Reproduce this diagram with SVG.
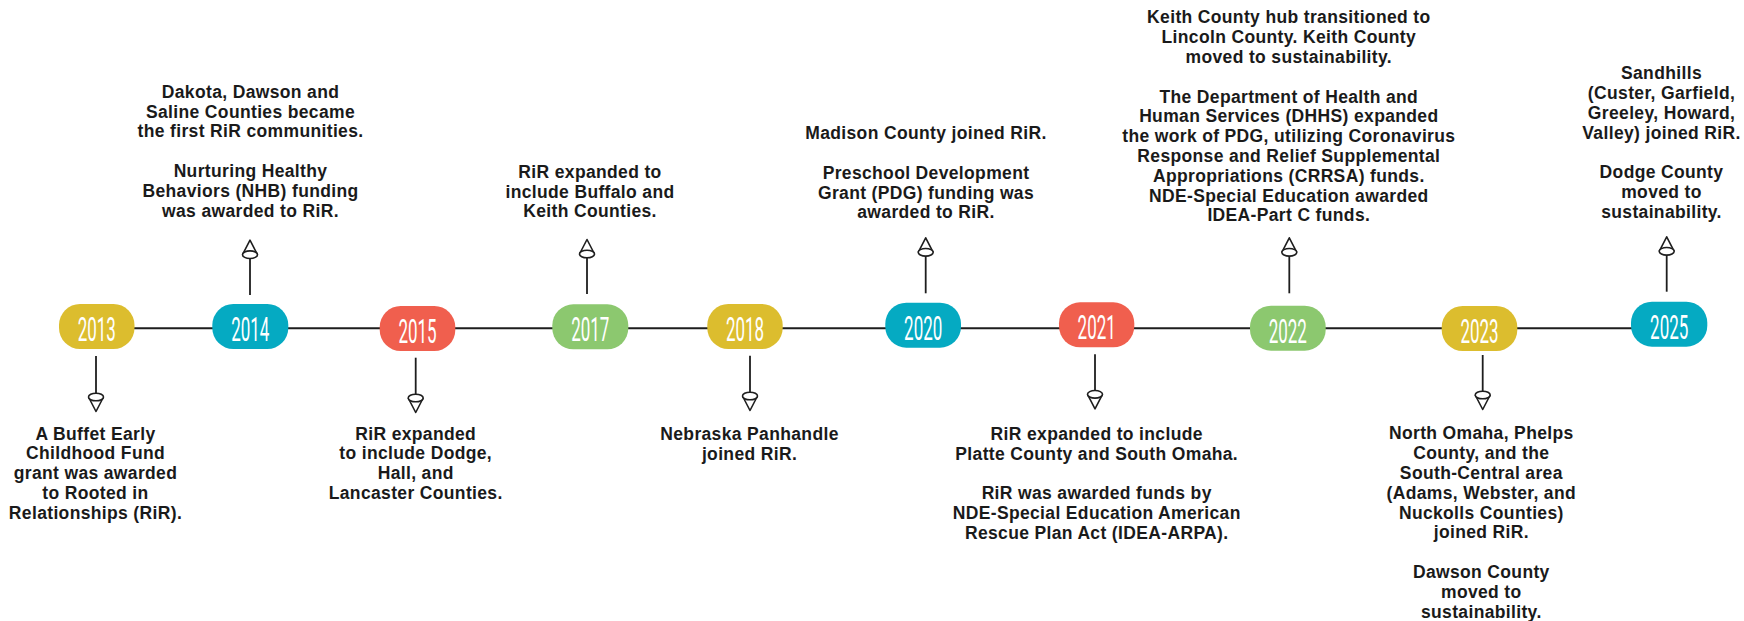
<svg xmlns="http://www.w3.org/2000/svg" width="1744" height="621" viewBox="0 0 1744 621">
<style>
.bg{fill:#ffffff}
.tl{stroke:#1e1e1e;stroke-width:2;fill:none}
.ar{stroke:#1e1e1e;stroke-width:1.8;fill:none;marker-end:url(#cone)}
.pill{stroke:none}
.y{fill:#dcbd2e}.b{fill:#05aac2}.r{fill:#f05f4e}.g{fill:#8cc86f}
.yr{font-family:Roboto,"Liberation Sans",sans-serif;font-weight:400;font-size:34px;fill:#ffffff;text-anchor:middle}
.tx{font-family:"Liberation Sans",Arial,sans-serif;font-weight:700;font-size:17.5px;letter-spacing:0.35px;fill:#1a1a1a;text-anchor:middle}
</style>
<defs>
<marker id="cone" markerUnits="userSpaceOnUse" orient="auto" refX="0" refY="0" markerWidth="20" markerHeight="20" overflow="visible">
<path d="M0,-7.5 L14.5,0 L0,7.5" fill="#ffffff" stroke="#1e1e1e" stroke-width="1.6" stroke-linejoin="round"/>
<ellipse cx="0" cy="0" rx="3.8" ry="7.5" fill="#ffffff" stroke="#1e1e1e" stroke-width="1.6"/>
</marker>
</defs>
<rect class="bg" x="0" y="0" width="1744" height="621"/>
<g id="connectors">
<path class="tl" d="M96,328.3 H1669"/>
<path class="ar" d="M96,356 L96,397"/>
<path class="ar" d="M250,295 L250,254.7"/>
<path class="ar" d="M415.7,357.7 L415.7,398"/>
<path class="ar" d="M587,294 L587,254"/>
<path class="ar" d="M750,355.7 L750,396"/>
<path class="ar" d="M925.7,293.3 L925.7,252.3"/>
<path class="ar" d="M1095,354.3 L1095,394.3"/>
<path class="ar" d="M1289.3,293.3 L1289.3,252.3"/>
<path class="ar" d="M1482.7,355 L1482.7,395"/>
<path class="ar" d="M1666.7,291.7 L1666.7,251.3"/>
</g>
<g id="node-2013">
<rect class="pill y" x="59" y="304" width="75.5" height="45" rx="21"/>
<text class="yr" transform="translate(96.8,341) scale(0.5,1)">2013</text>
<text class="tx"><tspan x="95.5" y="439.5">A Buffet Early</tspan><tspan x="95.5" y="459.3">Childhood Fund</tspan><tspan x="95.5" y="479.1">grant was awarded</tspan><tspan x="95.5" y="498.9">to Rooted in</tspan><tspan x="95.5" y="518.7">Relationships (RiR).</tspan></text>
</g>
<g id="node-2014">
<rect class="pill b" x="212.3" y="304" width="76" height="45" rx="21"/>
<text class="yr" transform="translate(250.3,341.3) scale(0.5,1)">2014</text>
<text class="tx"><tspan x="250.5" y="97.7">Dakota, Dawson and</tspan><tspan x="250.5" y="117.5">Saline Counties became</tspan><tspan x="250.5" y="137.3">the first RiR communities.</tspan><tspan x="250.5" y="176.9">Nurturing Healthy</tspan><tspan x="250.5" y="196.7">Behaviors (NHB) funding</tspan><tspan x="250.5" y="216.5">was awarded to RiR.</tspan></text>
</g>
<g id="node-2015">
<rect class="pill r" x="379.7" y="306" width="75.6" height="45" rx="21"/>
<text class="yr" transform="translate(417.5,343.3) scale(0.5,1)">2015</text>
<text class="tx"><tspan x="415.7" y="439.5">RiR expanded</tspan><tspan x="415.7" y="459.3">to include Dodge,</tspan><tspan x="415.7" y="479.1">Hall, and</tspan><tspan x="415.7" y="498.9">Lancaster Counties.</tspan></text>
</g>
<g id="node-2017">
<rect class="pill g" x="552.3" y="304.3" width="76" height="45" rx="21"/>
<text class="yr" transform="translate(590.3,341.3) scale(0.5,1)">2017</text>
<text class="tx"><tspan x="590" y="177.7">RiR expanded to</tspan><tspan x="590" y="197.5">include Buffalo and</tspan><tspan x="590" y="217.3">Keith Counties.</tspan></text>
</g>
<g id="node-2018">
<rect class="pill y" x="707.3" y="304" width="75.4" height="45" rx="21"/>
<text class="yr" transform="translate(745,341) scale(0.5,1)">2018</text>
<text class="tx"><tspan x="749.5" y="440">Nebraska Panhandle</tspan><tspan x="749.5" y="459.8">joined RiR.</tspan></text>
</g>
<g id="node-2020">
<rect class="pill b" x="885.3" y="302.7" width="75.7" height="45" rx="21"/>
<text class="yr" transform="translate(923.2,339.7) scale(0.5,1)">2020</text>
<text class="tx"><tspan x="926" y="139.3">Madison County joined RiR.</tspan><tspan x="926" y="178.7">Preschool Development</tspan><tspan x="926" y="198.5">Grant (PDG) funding was</tspan><tspan x="926" y="218.3">awarded to RiR.</tspan></text>
</g>
<g id="node-2021">
<rect class="pill r" x="1059" y="302.3" width="75.3" height="45" rx="21"/>
<text class="yr" transform="translate(1096.7,339.3) scale(0.5,1)">2021</text>
<text class="tx"><tspan x="1096.7" y="440">RiR expanded to include</tspan><tspan x="1096.7" y="459.8">Platte County and South Omaha.</tspan><tspan x="1096.7" y="499.4">RiR was awarded funds by</tspan><tspan x="1096.7" y="519.2">NDE-Special Education American</tspan><tspan x="1096.7" y="539">Rescue Plan Act (IDEA-ARPA).</tspan></text>
</g>
<g id="node-2022">
<rect class="pill g" x="1250" y="305.7" width="75.7" height="45" rx="21"/>
<text class="yr" transform="translate(1287.8,342.7) scale(0.5,1)">2022</text>
<text class="tx"><tspan x="1288.8" y="23.3">Keith County hub transitioned to</tspan><tspan x="1288.8" y="43.1">Lincoln County. Keith County</tspan><tspan x="1288.8" y="62.9">moved to sustainability.</tspan><tspan x="1288.8" y="102.5">The Department of Health and</tspan><tspan x="1288.8" y="122.3">Human Services (DHHS) expanded</tspan><tspan x="1288.8" y="142.1">the work of PDG, utilizing Coronavirus</tspan><tspan x="1288.8" y="161.9">Response and Relief Supplemental</tspan><tspan x="1288.8" y="181.7">Appropriations (CRRSA) funds.</tspan><tspan x="1288.8" y="201.5">NDE-Special Education awarded</tspan><tspan x="1288.8" y="221.3">IDEA-Part C funds.</tspan></text>
</g>
<g id="node-2023">
<rect class="pill y" x="1441.7" y="306" width="75.6" height="45" rx="21"/>
<text class="yr" transform="translate(1479.5,343) scale(0.5,1)">2023</text>
<text class="tx"><tspan x="1481.3" y="439.3">North Omaha, Phelps</tspan><tspan x="1481.3" y="459.1">County, and the</tspan><tspan x="1481.3" y="478.9">South-Central area</tspan><tspan x="1481.3" y="498.7">(Adams, Webster, and</tspan><tspan x="1481.3" y="518.5">Nuckolls Counties)</tspan><tspan x="1481.3" y="538.3">joined RiR.</tspan><tspan x="1481.3" y="577.9">Dawson County</tspan><tspan x="1481.3" y="597.7">moved to</tspan><tspan x="1481.3" y="617.5">sustainability.</tspan></text>
</g>
<g id="node-2025">
<rect class="pill b" x="1631" y="301.7" width="76.3" height="45" rx="21"/>
<text class="yr" transform="translate(1669.2,338.7) scale(0.5,1)">2025</text>
<text class="tx"><tspan x="1661.5" y="79.3">Sandhills</tspan><tspan x="1661.5" y="99.1">(Custer, Garfield,</tspan><tspan x="1661.5" y="118.9">Greeley, Howard,</tspan><tspan x="1661.5" y="138.7">Valley) joined RiR.</tspan><tspan x="1661.5" y="178.3">Dodge County</tspan><tspan x="1661.5" y="198.1">moved to</tspan><tspan x="1661.5" y="217.9">sustainability.</tspan></text>
</g>
</svg>
